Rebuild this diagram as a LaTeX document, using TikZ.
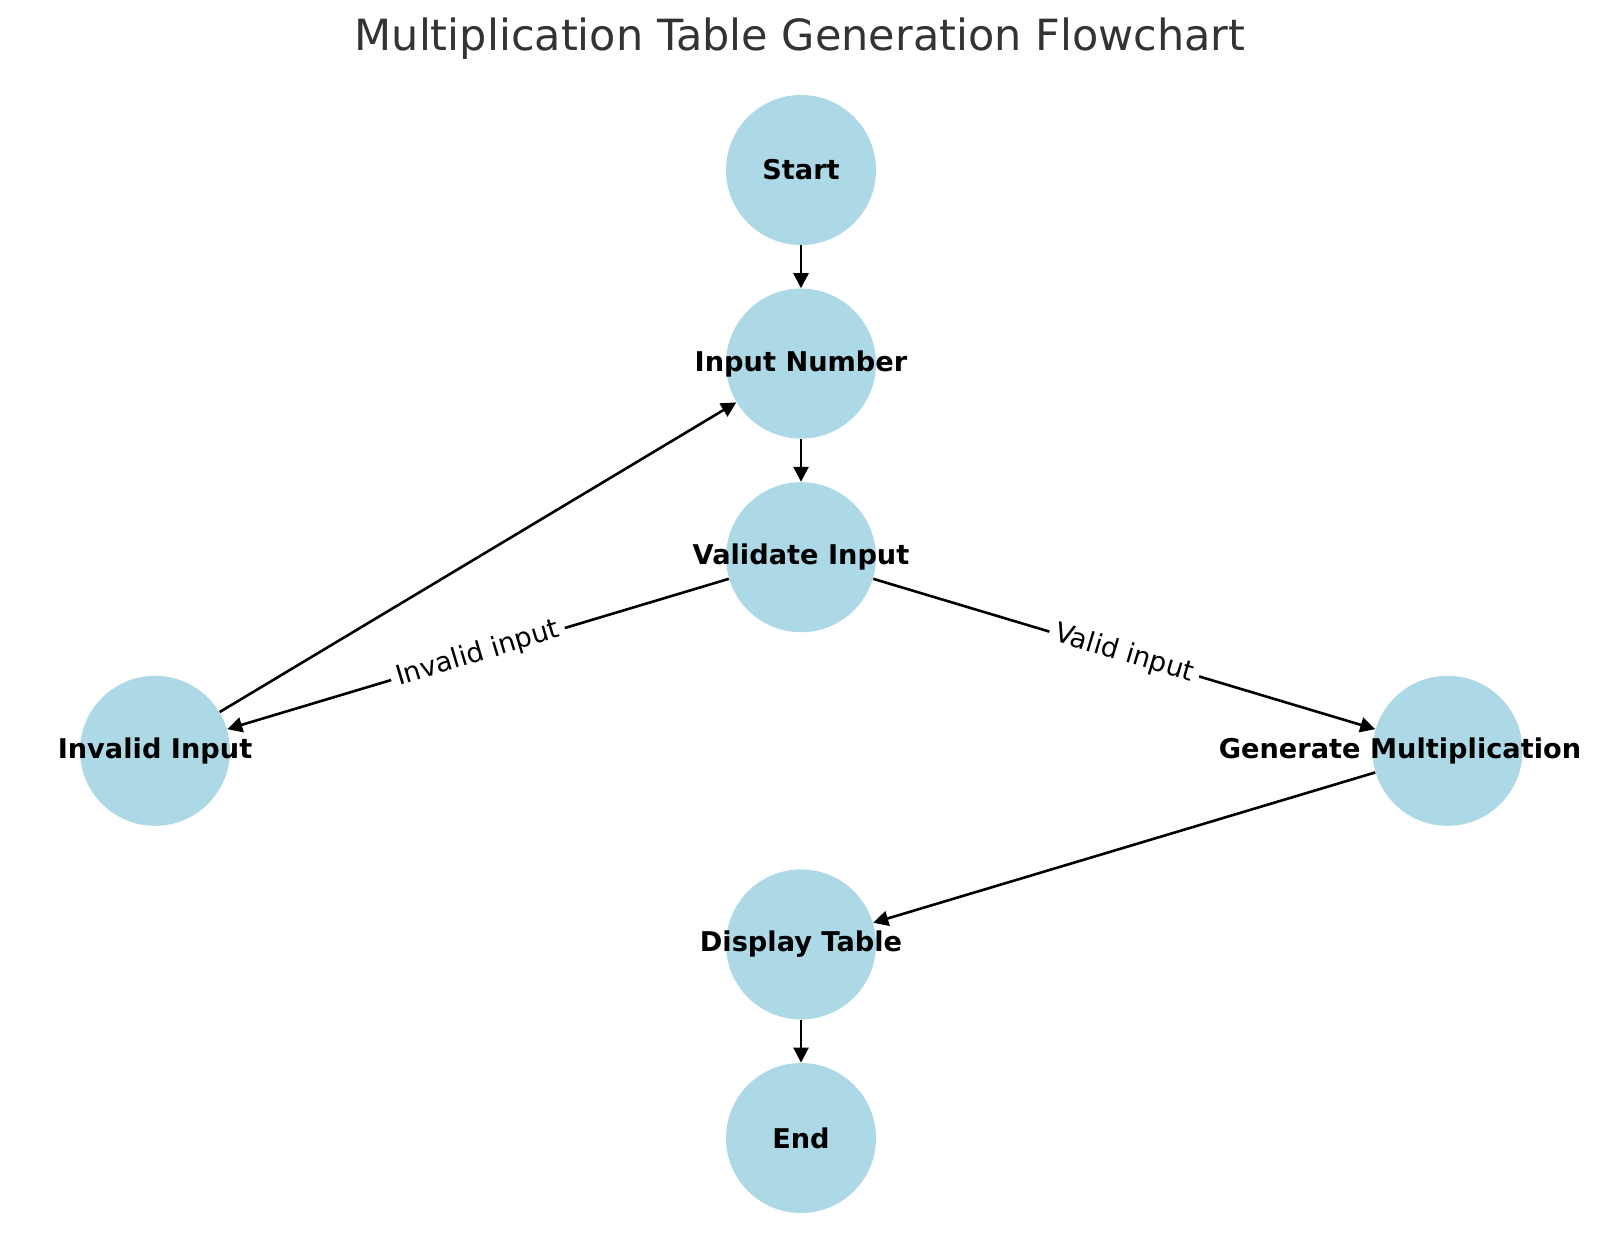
\documentclass[tikz,border=0pt]{standalone}
\usepackage{fontspec}
\setmainfont{DejaVu Sans}
\usetikzlibrary{arrows.meta,backgrounds}
\definecolor{nodeblue}{HTML}{ADD8E6}
\definecolor{titlegray}{HTML}{333333}
\tikzset{
  circnode/.style={circle, fill=nodeblue, draw=none, minimum size=75pt, inner sep=0pt},
  lbl/.style={font=\fontsize{13.6}{16}\selectfont\bfseries, text=black},
  stepnode/.style={circnode, label={[lbl]center:#1}},
  flow/.style={line width=1.3pt, -{Triangle[length=7.5pt,width=7.5pt]}},
  edgelabel/.style={fill=white, inner sep=3pt, font=\fontsize{13.6}{16}\selectfont, sloped, midway}
}
\begin{document}
\begin{tikzpicture}[x=0.5pt,y=-0.5pt]
\useasboundingbox (0,0) rectangle (1600,1259);
\node[font=\fontsize{21.5}{25}\selectfont, text=titlegray] (title) at (800,39) {Multiplication Table Generation Flowchart};
\node[stepnode={Start}] (start) at (801,170) {};
\node[stepnode={Input Number}] (input) at (801,363.6) {};
\node[stepnode={Validate Input}] (validate) at (801,557.2) {};
\node[stepnode={Invalid Input}] (invalid) at (155,750.8) {};
\node[circnode, label={[lbl, xshift=-23.75pt]center:Generate Multiplication}] (generate) at (1447.5,750.8) {};
\node[stepnode={Display Table}] (display) at (801,944.4) {};
\node[stepnode={End}] (end) at (801,1138) {};
\begin{scope}[on background layer]
\draw[flow] (start) -- (input);
\draw[flow] (input) -- (validate);
\draw[flow] (validate) -- node[edgelabel] (lInvalid) {Invalid input} (invalid);
\draw[flow] (validate) -- node[edgelabel] (lValid) {Valid input} (generate);
\draw[flow] (invalid) -- (input);
\draw[flow] (generate) -- (display);
\draw[flow] (display) -- (end);
\end{scope}
\end{tikzpicture}
\end{document}
